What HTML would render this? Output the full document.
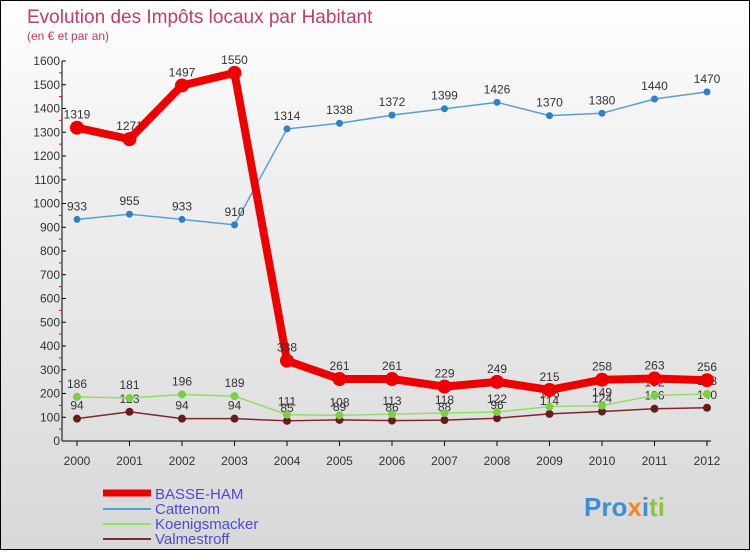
<!DOCTYPE html>
<html><head><meta charset="utf-8"><style>
body{margin:0;width:750px;height:550px;overflow:hidden;font-family:"Liberation Sans",sans-serif}
#wrap{position:relative;width:748px;height:548px;border:1px solid #000;background:linear-gradient(#fff 0%,#f0f0f0 30%,#d8d8d8 100%)}
</style></head><body>
<div id="wrap">
<svg id="c" width="748" height="548" xmlns="http://www.w3.org/2000/svg">
<text x="26" y="22" font-size="19" fill="#c8386a">Evolution des Impôts locaux par Habitant</text>
<text x="26" y="39" font-size="12" fill="#c8386a">(en € et par an)</text>
<g id="axes"></g><g id="series"></g>
<g>
<line x1="102" y1="492" x2="150" y2="492" stroke="#e00" stroke-width="7"/>
<text x="154" y="498" font-size="15" fill="#4b4bd8">BASSE-HAM</text>
<line x1="102" y1="508" x2="150" y2="508" stroke="#5a9fd4" stroke-width="2"/>
<text x="154" y="513" font-size="15" fill="#4b4bd8">Cattenom</text>
<line x1="102" y1="523" x2="150" y2="523" stroke="#8fe060" stroke-width="2"/>
<text x="154" y="528" font-size="15" fill="#4b4bd8">Koenigsmacker</text>
<line x1="102" y1="538" x2="150" y2="538" stroke="#7a2a2a" stroke-width="2"/>
<text x="154" y="543" font-size="15" fill="#4b4bd8">Valmestroff</text>
</g>
<text x="583" y="515" font-size="26" font-weight="bold"><tspan fill="#3a8fd8">Pro</tspan><tspan fill="#f08a20">x</tspan><tspan fill="#3a8fd8">i</tspan><tspan fill="#8cc63f">ti</tspan></text>
</svg></div>
<script>
const years=[2000,2001,2002,2003,2004,2005,2006,2007,2008,2009,2010,2011,2012];
const basse=[1319,1271,1497,1550,338,261,261,229,249,215,258,263,256];
const catt=[933,955,933,910,1314,1338,1372,1399,1426,1370,1380,1440,1470];
const koen=[186,181,196,189,111,108,113,118,122,145,149,192,198];
const valm=[94,123,94,94,85,89,86,88,96,114,124,136,140];
const yTicks=[0,100,200,300,400,500,600,700,800,900,1000,1100,1200,1300,1400,1500,1600];
const NS='http://www.w3.org/2000/svg';
const X=i=>76+i*52.5, Y=v=>440-v*0.2375;
function mk(t,a,p){const e=document.createElementNS(NS,t);for(const k in a)e.setAttribute(k,a[k]);p.appendChild(e);return e;}
const ax=document.getElementById('axes'), se=document.getElementById('series');
let l=mk('line',{x1:61,y1:Y(1600),x2:61,y2:440,stroke:'#000'},ax);


l=mk('line',{x1:61,y1:440,x2:710,y2:440,stroke:'#000'},ax);


yTicks.forEach(v=>{mk('line',{x1:61,y1:Y(v),x2:65,y2:Y(v),stroke:'#000'},ax);
 if(v<1600)mk('line',{x1:58,y1:Y(v+50),x2:61,y2:Y(v+50),stroke:'#e00'},ax);
 const t=mk('text',{x:59,y:Y(v)+4,'font-size':12,fill:'#333','text-anchor':'end'},ax);t.textContent=v;
 
 });
years.forEach((y,i)=>{mk('line',{x1:X(i),y1:440,x2:X(i),y2:445,stroke:'#000'},ax);
 const t=mk('text',{x:X(i),y:464,'font-size':12,fill:'#333','text-anchor':'middle'},ax);t.textContent=y;
 
 });
function series(d,name,col,w,r,dot){const g=mk('g',{},se);
 
 
 mk('polyline',{points:d.map((v,i)=>X(i)+','+Y(v)).join(' '),fill:'none',stroke:col,'stroke-width':w,'stroke-linejoin':'round'},g);
 d.forEach((v,i)=>{const c=mk('circle',{cx:X(i),cy:Y(v),r:r,fill:dot},g);
  
  
  const t=mk('text',{x:X(i),y:Y(v)-9,'font-size':12,fill:'#333','text-anchor':'middle'},g);t.textContent=v;});}
series(valm,'valmestroff','#7a2a2a',1.5,4,'#6a1a1a');
series(koen,'koenigsmacker','#8fe060',1.5,4,'#7ad040');
series(catt,'cattenom','#5a9fd4',1.5,3.5,'#2f80c8');
series(basse,'basse-ham','#e00',8,7,'#e00');
</script>
</body></html>
